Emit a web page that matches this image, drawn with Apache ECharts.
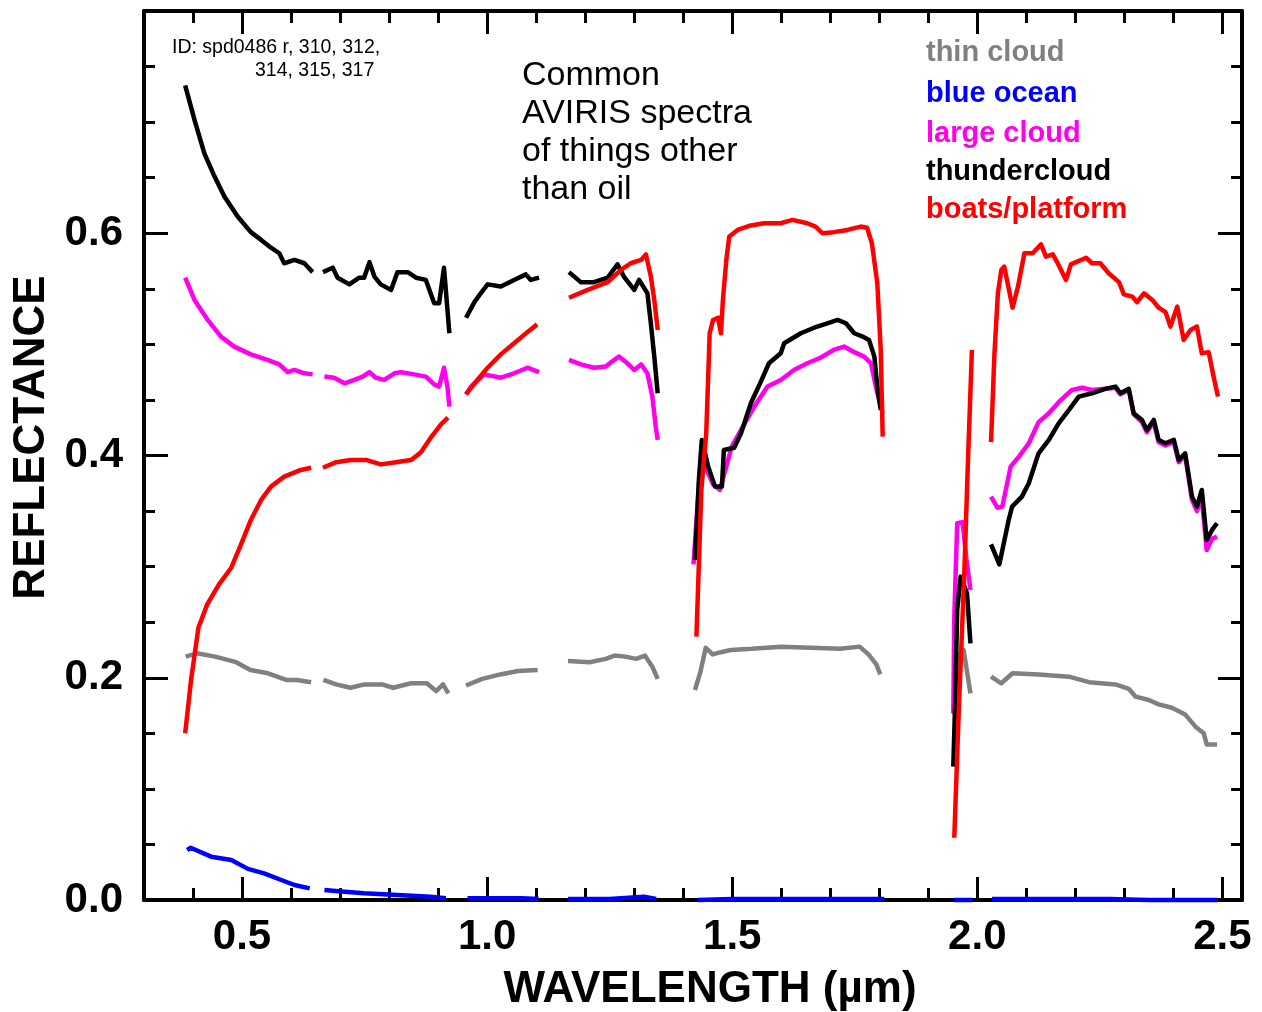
<!DOCTYPE html>
<html><head><meta charset="utf-8">
<script src="https://cdn.jsdelivr.net/npm/echarts@6/dist/echarts.min.js"></script>
<style>html,body{margin:0;padding:0;background:#fff}#chart{width:1262px;height:1012px}</style>
</head><body><div id="chart"></div>
<script>
// ---------- data (wavelength µm, reflectance) ----------
const xMajorTicks = [0.5, 1.0, 1.5, 2.0, 2.5];
const yLabelTicks = [0.0, 0.2, 0.4, 0.6];
const seriesNames = ['thin cloud', 'blue ocean', 'large cloud', 'thundercloud', 'boats/platform'];

const thinCloud = [
  [[0.385,0.219],[0.408,0.222],[0.445,0.219],[0.488,0.214],[0.517,0.207],[0.553,0.204],[0.590,0.198],[0.612,0.198],[0.641,0.196]],
  [[0.666,0.198],[0.692,0.194],[0.721,0.191],[0.750,0.194],[0.786,0.194],[0.808,0.191],[0.845,0.195],[0.877,0.195],[0.896,0.188],[0.910,0.194],[0.921,0.186]],
  [[0.957,0.193],[0.990,0.199],[1.027,0.203],[1.063,0.206],[1.103,0.207]],
  [[1.165,0.215],[1.209,0.214],[1.242,0.217],[1.260,0.220],[1.282,0.219],[1.304,0.217],[1.322,0.220],[1.337,0.210],[1.348,0.199]],
  [[1.424,0.189],[1.435,0.205],[1.446,0.227],[1.460,0.221],[1.477,0.223],[1.497,0.225],[1.540,0.226],[1.600,0.228],[1.660,0.227],[1.720,0.226],[1.760,0.228],[1.778,0.221],[1.794,0.212],[1.802,0.203]],
  [[1.953,0.167],[1.955,0.180],[1.965,0.222],[1.972,0.225],[1.986,0.186]],
  [[2.028,0.201],[2.049,0.195],[2.072,0.204],[2.125,0.203],[2.187,0.201],[2.228,0.196],[2.282,0.194],[2.309,0.190],[2.323,0.183],[2.350,0.180],[2.370,0.176],[2.397,0.173],[2.424,0.167],[2.445,0.156],[2.462,0.150],[2.468,0.140],[2.489,0.140]]
];

const blueOcean = [
  [[0.388,0.045],[0.395,0.047],[0.437,0.039],[0.478,0.036],[0.512,0.028],[0.545,0.024],[0.580,0.018],[0.607,0.0135],[0.638,0.0105]],
  [[0.668,0.009],[0.709,0.0075],[0.749,0.006],[0.817,0.0045],[0.885,0.003],[0.916,0.0015]],
  [[0.960,0.0015],[1.021,0.0015],[1.070,0.0015],[1.105,0.001]],
  [[1.165,0.001],[1.250,0.001],[1.320,0.003],[1.345,0.001]],
  [[1.430,0.000],[1.500,0.001],[1.600,0.001],[1.700,0.001],[1.810,0.001]],
  [[1.953,0.000],[1.990,0.000]],
  [[2.030,0.001],[2.200,0.001],[2.270,0.001],[2.350,0.000],[2.490,0.000]]
];

const largeCloud = [
  [[0.384,0.560],[0.403,0.540],[0.430,0.522],[0.457,0.507],[0.484,0.498],[0.518,0.491],[0.552,0.486],[0.576,0.482],[0.593,0.475],[0.607,0.477],[0.627,0.474],[0.644,0.473]],
  [[0.668,0.471],[0.688,0.470],[0.709,0.465],[0.729,0.468],[0.746,0.471],[0.760,0.475],[0.773,0.470],[0.790,0.468],[0.811,0.474],[0.824,0.475],[0.851,0.473],[0.875,0.471],[0.892,0.464],[0.902,0.462],[0.912,0.479],[0.919,0.462],[0.923,0.444]],
  [[0.957,0.455],[0.967,0.462],[0.994,0.473],[1.028,0.470],[1.055,0.474],[1.082,0.479],[1.106,0.475]],
  [[1.167,0.486],[1.191,0.482],[1.218,0.479],[1.242,0.480],[1.256,0.485],[1.269,0.489],[1.286,0.483],[1.300,0.477],[1.314,0.482],[1.327,0.474],[1.337,0.453],[1.344,0.426],[1.348,0.414]],
  [[1.421,0.302],[1.430,0.360],[1.438,0.410],[1.448,0.387],[1.461,0.374],[1.475,0.369],[1.499,0.408],[1.518,0.423],[1.545,0.444],[1.572,0.462],[1.599,0.468],[1.626,0.477],[1.653,0.483],[1.680,0.488],[1.707,0.495],[1.728,0.498],[1.749,0.493],[1.769,0.489],[1.783,0.483],[1.796,0.456],[1.807,0.438]],
  [[1.951,0.168],[1.953,0.254],[1.959,0.339],[1.970,0.340],[1.978,0.306],[1.986,0.279]],
  [[2.028,0.363],[2.041,0.353],[2.051,0.354],[2.068,0.390],[2.085,0.399],[2.105,0.411],[2.125,0.430],[2.146,0.438],[2.166,0.448],[2.193,0.459],[2.214,0.461],[2.234,0.459],[2.261,0.460],[2.282,0.461],[2.292,0.455],[2.309,0.459],[2.319,0.437],[2.336,0.430],[2.346,0.421],[2.360,0.430],[2.370,0.412],[2.384,0.409],[2.401,0.412],[2.411,0.394],[2.424,0.400],[2.438,0.360],[2.448,0.350],[2.458,0.362],[2.468,0.315],[2.479,0.325],[2.489,0.327]]
];

const thundercloud = [
  [[0.384,0.733],[0.403,0.702],[0.423,0.672],[0.444,0.651],[0.464,0.633],[0.491,0.615],[0.518,0.601],[0.539,0.594],[0.559,0.587],[0.576,0.582],[0.586,0.573],[0.607,0.576],[0.627,0.573],[0.644,0.565]],
  [[0.665,0.565],[0.685,0.569],[0.695,0.560],[0.719,0.554],[0.739,0.560],[0.749,0.560],[0.760,0.574],[0.770,0.561],[0.783,0.554],[0.804,0.549],[0.817,0.565],[0.838,0.565],[0.855,0.560],[0.875,0.558],[0.892,0.537],[0.902,0.537],[0.912,0.569],[0.923,0.510]],
  [[0.957,0.524],[0.974,0.538],[0.987,0.546],[1.001,0.554],[1.028,0.552],[1.055,0.558],[1.079,0.563],[1.089,0.558],[1.106,0.560]],
  [[1.167,0.565],[1.191,0.556],[1.218,0.556],[1.246,0.560],[1.266,0.572],[1.279,0.561],[1.300,0.549],[1.310,0.558],[1.327,0.546],[1.334,0.519],[1.341,0.489],[1.348,0.456]],
  [[1.424,0.306],[1.432,0.378],[1.438,0.414],[1.451,0.390],[1.465,0.372],[1.479,0.372],[1.483,0.405],[1.504,0.407],[1.518,0.420],[1.538,0.447],[1.558,0.466],[1.575,0.483],[1.599,0.492],[1.606,0.501],[1.640,0.510],[1.667,0.515],[1.694,0.519],[1.715,0.522],[1.732,0.519],[1.749,0.510],[1.766,0.507],[1.779,0.504],[1.790,0.489],[1.796,0.462],[1.803,0.441]],
  [[1.951,0.120],[1.955,0.180],[1.959,0.261],[1.966,0.291],[1.979,0.276],[1.986,0.231]],
  [[2.028,0.320],[2.045,0.302],[2.064,0.342],[2.071,0.354],[2.091,0.363],[2.105,0.375],[2.125,0.402],[2.146,0.414],[2.166,0.429],[2.187,0.441],[2.207,0.453],[2.234,0.456],[2.261,0.460],[2.282,0.462],[2.292,0.456],[2.309,0.460],[2.319,0.438],[2.336,0.432],[2.346,0.423],[2.360,0.432],[2.370,0.414],[2.384,0.411],[2.401,0.414],[2.411,0.396],[2.424,0.402],[2.438,0.363],[2.448,0.354],[2.458,0.369],[2.468,0.324],[2.479,0.333],[2.489,0.339]]
];

const boatsPlatform = [
  [[0.384,0.150],[0.396,0.198],[0.411,0.245],[0.429,0.266],[0.453,0.284],[0.478,0.299],[0.498,0.320],[0.518,0.342],[0.539,0.360],[0.559,0.372],[0.586,0.381],[0.620,0.387],[0.641,0.389]],
  [[0.665,0.389],[0.692,0.394],[0.722,0.396],[0.753,0.396],[0.783,0.392],[0.814,0.394],[0.845,0.396],[0.865,0.403],[0.885,0.416],[0.906,0.428],[0.920,0.434]],
  [[0.957,0.455],[0.980,0.468],[1.001,0.479],[1.028,0.491],[1.055,0.501],[1.082,0.511],[1.102,0.518]],
  [[1.167,0.542],[1.205,0.549],[1.246,0.556],[1.273,0.567],[1.293,0.573],[1.314,0.576],[1.324,0.581],[1.334,0.561],[1.341,0.540],[1.348,0.513]],
  [[1.427,0.237],[1.437,0.369],[1.447,0.420],[1.454,0.510],[1.461,0.522],[1.471,0.524],[1.477,0.510],[1.481,0.540],[1.488,0.576],[1.494,0.597],[1.511,0.603],[1.538,0.607],[1.565,0.609],[1.599,0.609],[1.623,0.612],[1.653,0.609],[1.670,0.606],[1.684,0.600],[1.707,0.601],[1.735,0.603],[1.762,0.606],[1.775,0.605],[1.785,0.591],[1.796,0.555],[1.803,0.495],[1.807,0.417]],
  [[1.953,0.056],[1.963,0.180],[1.973,0.288],[1.981,0.396],[1.989,0.495]],
  [[2.028,0.412],[2.035,0.492],[2.042,0.546],[2.049,0.567],[2.055,0.570],[2.072,0.533],[2.083,0.552],[2.096,0.582],[2.113,0.582],[2.130,0.590],[2.140,0.579],[2.154,0.581],[2.164,0.573],[2.181,0.558],[2.191,0.572],[2.222,0.578],[2.234,0.573],[2.251,0.573],[2.268,0.564],[2.289,0.556],[2.299,0.545],[2.316,0.543],[2.326,0.538],[2.340,0.546],[2.357,0.540],[2.370,0.533],[2.384,0.529],[2.394,0.516],[2.408,0.534],[2.421,0.504],[2.435,0.513],[2.448,0.516],[2.458,0.492],[2.472,0.493],[2.482,0.471],[2.491,0.453]]
];

const annotationId = ['ID: spd0486 r, 310, 312,', '314, 315, 317'];
const annotationTitle = ['Common', 'AVIRIS spectra', 'of things other', 'than oil'];

// ---------- build ----------
const spectra = [thinCloud, blueOcean, largeCloud, thundercloud, boatsPlatform];
const colors = ['#808080', '#0000ff', '#ff00ee', '#000000', '#ff0000'];

function joinSegments(segs) {
  const out = [];
  segs.forEach((s, i) => {
    if (i > 0) {
      const prev = segs[i - 1];
      out.push([(prev[prev.length - 1][0] + s[0][0]) / 2, null]);
    }
    s.forEach(p => out.push(p));
  });
  return out;
}

const FONT = '"Liberation Sans", Arial, Helvetica, sans-serif';
const fmt1 = v => Number(v).toFixed(1);
const XMIN = 0.3, XMAX = 2.54;
const axisLineStyle = { show: true, lineStyle: { color: '#000', width: 4 } };

const xAxes = [
  { type: 'value', position: 'bottom', min: XMIN, max: XMAX, interval: 0.1,
    axisLine: axisLineStyle,
    axisTick: { show: true, inside: true, length: 12, lineStyle: { color: '#000', width: 3 } },
    axisLabel: { show: true, customValues: xMajorTicks, formatter: fmt1, fontSize: 42, fontWeight: 'bold', fontFamily: FONT, color: '#000', margin: 16 },
    splitLine: { show: false },
    name: 'WAVELENGTH (µm)', nameLocation: 'middle', nameGap: 68,
    nameTextStyle: { fontSize: 44, fontWeight: 'bold', fontFamily: FONT, color: '#000', padding: [0, 0, 0, 34] } },
  { type: 'value', position: 'bottom', min: XMIN, max: XMAX,
    axisLine: { show: false },
    axisTick: { show: true, inside: true, length: 23, customValues: xMajorTicks, lineStyle: { color: '#000', width: 3 } },
    axisLabel: { show: false }, splitLine: { show: false } },
  { type: 'value', position: 'top', min: XMIN, max: XMAX, interval: 0.1,
    axisLine: axisLineStyle,
    axisTick: { show: true, inside: true, length: 12, lineStyle: { color: '#000', width: 3 } },
    axisLabel: { show: false }, splitLine: { show: false } },
  { type: 'value', position: 'top', min: XMIN, max: XMAX,
    axisLine: { show: false },
    axisTick: { show: true, inside: true, length: 23, customValues: xMajorTicks, lineStyle: { color: '#000', width: 3 } },
    axisLabel: { show: false }, splitLine: { show: false } }
];

function yAx(pos, labels) {
  return {
    type: 'value', position: pos, min: 0, max: 0.8, interval: 0.2,
    axisLine: axisLineStyle,
    axisTick: { show: true, inside: true, length: 24, lineStyle: { color: '#000', width: 3 } },
    minorTick: { show: true, splitNumber: 4, length: 11, lineStyle: { color: '#000', width: 3 } },
    axisLabel: labels ? { show: true, customValues: yLabelTicks, formatter: fmt1, fontSize: 42, fontWeight: 'bold', fontFamily: FONT, color: '#000', margin: 21 } : { show: false },
    splitLine: { show: false }, minorSplitLine: { show: false },
    name: labels ? 'REFLECTANCE' : '', nameLocation: 'middle', nameGap: 88,
    nameTextStyle: { fontSize: 44, fontWeight: 'bold', fontFamily: FONT, color: '#000', padding: [0, 0, 0, 36] }
  };
}

const series = spectra.map((segs, i) => ({
  name: seriesNames[i], type: 'line', xAxisIndex: 0, yAxisIndex: 0,
  data: joinSegments(segs), showSymbol: false, symbol: 'none', connectNulls: false,
  clip: false, lineStyle: { color: colors[i], width: 4.5, cap: 'butt', join: 'round' },
  itemStyle: { color: colors[i] }, emphasis: { disabled: true }, z: 3 + i
}));

const graphics = [];
graphics.push({ type: 'text', left: 172, top: 38, style: { text: annotationId[0], font: '19.5px ' + FONT, fill: '#000' } });
graphics.push({ type: 'text', left: 255, top: 61, style: { text: annotationId[1], font: '19.5px ' + FONT, fill: '#000' } });
const titleY = [59, 97, 135, 173];
annotationTitle.forEach((t, i) => graphics.push({ type: 'text', left: 522, top: titleY[i], style: { text: t, font: '34px ' + FONT, fill: '#000' } }));
const legendY = [38, 79, 119, 157, 195];
seriesNames.forEach((n, i) => graphics.push({ type: 'text', left: 926, top: legendY[i], style: { text: n, font: 'bold 29px ' + FONT, fill: colors[i] } }));

const chart = echarts.init(document.getElementById('chart'), null, { renderer: 'canvas' });
chart.setOption({
  animation: false,
  backgroundColor: '#fff',
  grid: { left: 144, right: 20, top: 11, bottom: 112, containLabel: false, outerBoundsMode: 'none' },
  xAxis: xAxes,
  yAxis: [yAx('left', true), yAx('right', false)],
  series: series,
  graphic: graphics
});
</script></body></html>
